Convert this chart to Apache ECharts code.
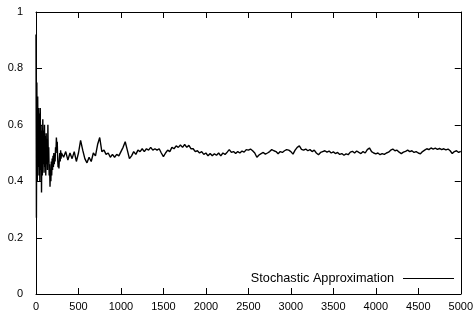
<!DOCTYPE html>
<html><head><meta charset="utf-8">
<script src="https://cdn.jsdelivr.net/npm/echarts@6/dist/echarts.min.js"></script>
<style>html,body{margin:0;padding:0;background:#fff}#c{width:476px;height:313px}</style>
</head><body><div id="c"></div>
<script>
var seriesName = "Stochastic Approximation";
var xTicks = [0, 500, 1000, 1500, 2000, 2500, 3000, 3500, 4000, 4500, 5000];
var yTicks = [0, 0.2, 0.4, 0.6, 0.8, 1];
var iterations = [
  0,5,10,15,20,25,30,35,40,45,50,55,60,65,70,75,80,85,90,95,100,105,110,115,120,125,130,135,140,145,150,155,160,165,170,175,180,185,190,195,200,205,210,215,220,225,230,235,240,245,250,255,260,265,270,275,280,285,290,295,300,
  325,350,375,400,425,450,475,500,525,550,575,600,625,650,675,700,725,750,775,800,825,850,875,900,925,950,975,1000,
  1025,1050,1075,1100,1125,1150,1175,1200,1225,1250,1275,1300,1325,1350,1375,1400,1425,1450,1475,1500,
  1525,1550,1575,1600,1625,1650,1675,1700,1725,1750,1775,1800,1825,1850,1875,1900,1925,1950,1975,2000,
  2025,2050,2075,2100,2125,2150,2175,2200,2225,2250,2275,2300,2325,2350,2375,2400,2425,2450,2475,2500,
  2525,2550,2575,2600,2625,2650,2675,2700,2725,2750,2775,2800,2825,2850,2875,2900,2925,2950,2975,3000,
  3025,3050,3075,3100,3125,3150,3175,3200,3225,3250,3275,3300,3325,3350,3375,3400,3425,3450,3475,3500,
  3525,3550,3575,3600,3625,3650,3675,3700,3725,3750,3775,3800,3825,3850,3875,3900,3925,3950,3975,4000,
  4025,4050,4075,4100,4125,4150,4175,4200,4225,4250,4275,4300,4325,4350,4375,4400,4425,4450,4475,4500,
  4525,4550,4575,4600,4625,4650,4675,4700,4725,4750,4775,4800,4825,4850,4875,4900,4925,4950,4975,5000
];
var estimates = [
  0.92,0.27,0.75,0.40,0.70,0.45,0.66,0.42,0.64,0.40,0.66,0.44,0.60,0.36,0.58,0.42,0.62,0.46,0.58,0.43,0.60,0.45,0.56,0.42,0.57,0.46,0.55,0.44,0.60,0.47,0.52,0.42,0.46,0.38,0.44,0.40,0.47,0.42,0.48,0.44,0.49,0.45,0.50,0.46,0.49,0.47,0.52,0.50,0.555,0.52,0.54,0.48,0.45,0.47,0.445,0.48,0.50,0.47,0.51,0.48,0.50,
  0.485,0.505,0.475,0.50,0.48,0.505,0.47,0.50,0.545,0.51,0.48,0.465,0.485,0.47,0.50,0.49,0.53,0.555,0.505,0.51,0.495,0.50,0.485,0.495,0.485,0.495,0.49,0.505,
  0.52,0.54,0.51,0.48,0.49,0.505,0.495,0.51,0.505,0.515,0.505,0.515,0.51,0.52,0.51,0.515,0.51,0.515,0.50,0.487,
  0.50,0.51,0.505,0.52,0.515,0.525,0.52,0.528,0.52,0.53,0.52,0.527,0.515,0.515,0.505,0.508,0.50,0.505,0.495,0.50,
  0.49,0.498,0.49,0.497,0.492,0.50,0.49,0.50,0.495,0.503,0.512,0.502,0.505,0.498,0.505,0.50,0.507,0.503,0.512,0.51,
  0.514,0.508,0.50,0.485,0.493,0.498,0.502,0.496,0.50,0.505,0.512,0.508,0.505,0.497,0.505,0.502,0.508,0.512,0.51,0.505,
  0.496,0.51,0.52,0.525,0.513,0.51,0.514,0.508,0.512,0.505,0.51,0.50,0.494,0.502,0.505,0.508,0.503,0.507,0.50,0.504,
  0.498,0.502,0.495,0.498,0.492,0.497,0.494,0.503,0.506,0.50,0.507,0.502,0.498,0.505,0.50,0.512,0.518,0.505,0.50,0.497,
  0.50,0.494,0.498,0.495,0.50,0.503,0.51,0.514,0.508,0.51,0.503,0.498,0.503,0.506,0.51,0.505,0.508,0.502,0.505,0.50,
  0.497,0.505,0.51,0.515,0.512,0.518,0.514,0.517,0.513,0.516,0.512,0.515,0.511,0.514,0.508,0.498,0.505,0.508,0.502,0.506
];
var points = iterations.map(function (x, i) { return [x, estimates[i]]; });

var font = '"Liberation Sans", Arial, Helvetica, sans-serif';
var TICK = 6;
function fmtY(v) { var r = +v.toFixed(1); return yTicks.indexOf(r) >= 0 ? String(r) : ''; }
function fmtX(v) { return xTicks.indexOf(Math.round(v)) >= 0 ? String(Math.round(v)) : ''; }

function axis(pos, min, max, interval, label) {
  return {
    type: 'value', position: pos, min: min, max: max, interval: interval,
    axisLine: { show: true, onZero: false, lineStyle: { color: '#000', width: 1 } },
    axisTick: { show: false },
    splitLine: { show: false },
    axisLabel: label || { show: false }
  };
}
var tickStyle = { stroke: '#000', lineWidth: 1 };
function xTickItem(params, api) {
  var cs = params.coordSys;
  var px = Math.round(api.coord([api.value(0), 0])[0]) + 0.5;
  var bottom = cs.y + cs.height, top = cs.y;
  return { type: 'group', children: [
    { type: 'line', shape: { x1: px, y1: bottom, x2: px, y2: bottom - TICK }, style: tickStyle },
    { type: 'line', shape: { x1: px, y1: top, x2: px, y2: top + TICK }, style: tickStyle }
  ] };
}
function yTickItem(params, api) {
  var cs = params.coordSys;
  var py = Math.round(api.coord([0, api.value(1)])[1]) + 0.5;
  var left = cs.x, right = cs.x + cs.width;
  return { type: 'group', children: [
    { type: 'line', shape: { x1: left, y1: py, x2: left + TICK, y2: py }, style: tickStyle },
    { type: 'line', shape: { x1: right, y1: py, x2: right - TICK, y2: py }, style: tickStyle }
  ] };
}
var chart = echarts.init(document.getElementById('c'), null, { renderer: 'canvas' });
chart.setOption({
  animation: false,
  backgroundColor: '#fff',
  grid: { left: 36, right: 15, top: 12, bottom: 19, containLabel: false },
  legend: {
    data: [seriesName], right: 22, top: 272, align: 'right', padding: 0,
    itemWidth: 51, itemHeight: 1, icon: 'rect',
    textStyle: { fontFamily: font, fontSize: 12.7, color: '#000', padding: [0, 4, 0, 0] }
  },
  xAxis: [
    axis('bottom', 0, 5000, 500, { fontFamily: font, fontSize: 11, color: '#000', margin: 7, formatter: fmtX }),
    axis('top', 0, 5000, 500)
  ],
  yAxis: [
    axis('left', 0, 1, 0.2, { fontFamily: font, fontSize: 11, color: '#000', margin: 13, formatter: fmtY }),
    axis('right', 0, 1, 0.2)
  ],
  series: [
    {
      name: seriesName, type: 'line', data: points, showSymbol: false, symbol: 'none',
      xAxisIndex: 0, yAxisIndex: 0,
      lineStyle: { color: '#000', width: 1.4 }, itemStyle: { color: '#000' }
    },
    {
      name: 'xticks', type: 'custom', silent: true, clip: false, z: 3,
      xAxisIndex: 0, yAxisIndex: 0,
      data: xTicks.map(function (v) { return [v, 0]; }), renderItem: xTickItem
    },
    {
      name: 'yticks', type: 'custom', silent: true, clip: false, z: 3,
      xAxisIndex: 0, yAxisIndex: 0,
      data: yTicks.map(function (v) { return [0, v]; }), renderItem: yTickItem
    }
  ]
});
</script></body></html>
